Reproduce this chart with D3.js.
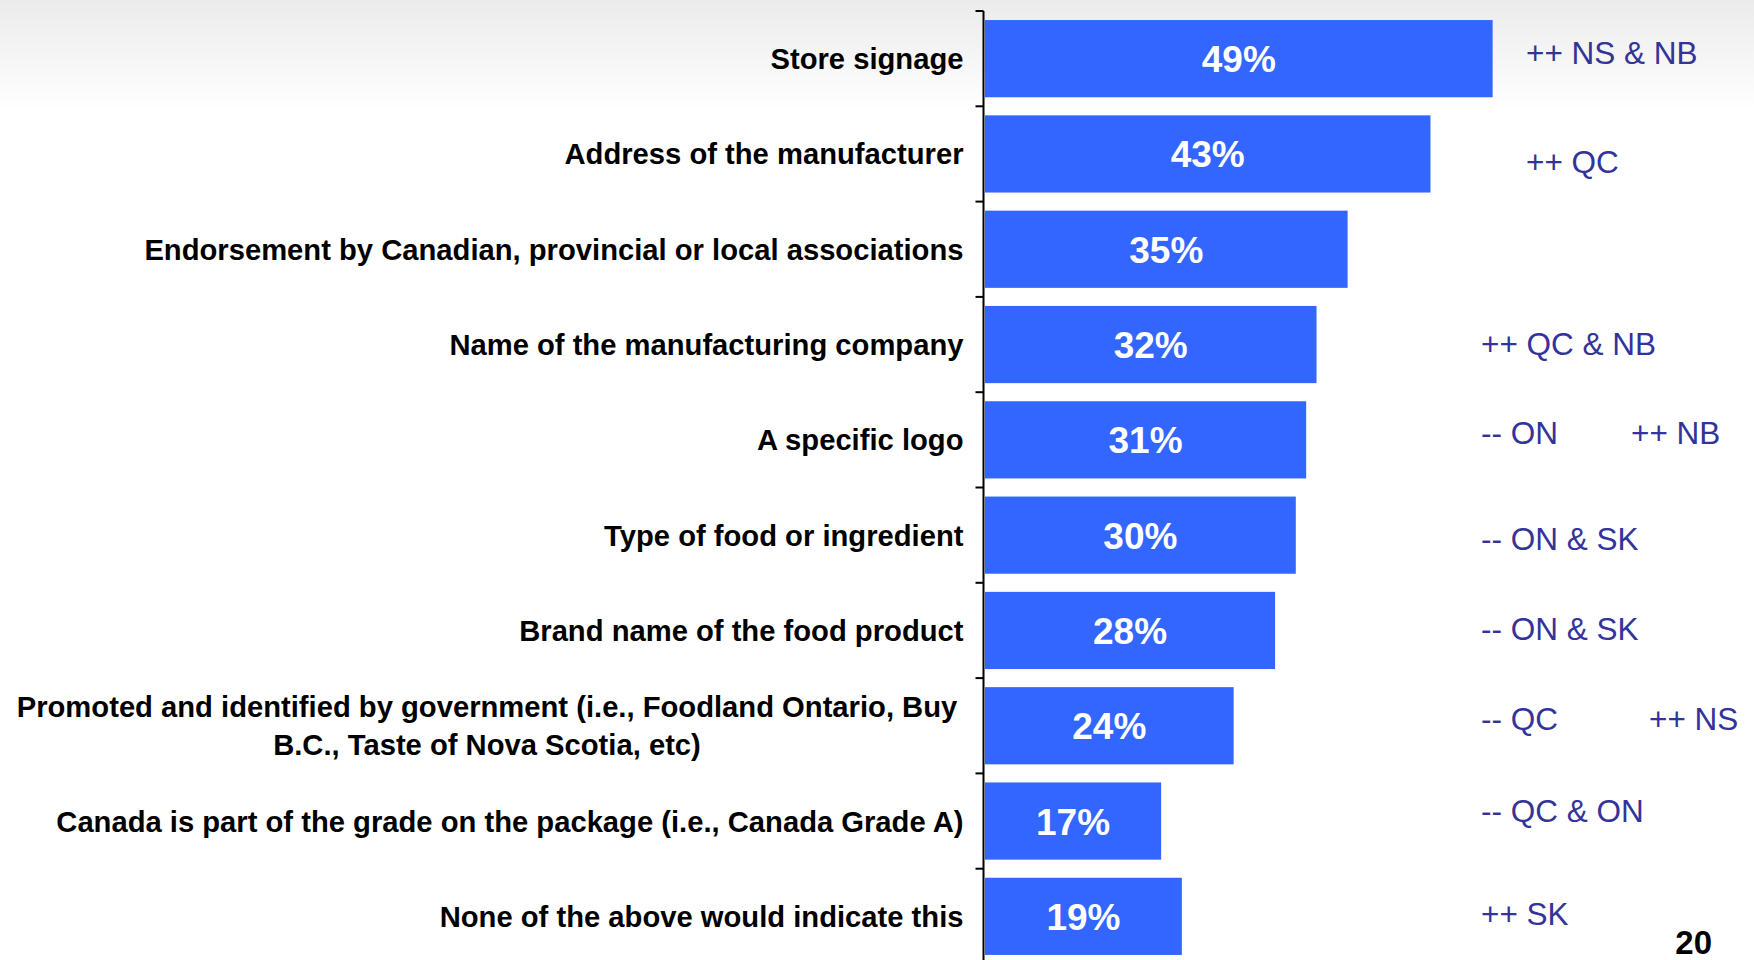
<!DOCTYPE html>
<html>
<head>
<meta charset="utf-8">
<script src="https://cdn.jsdelivr.net/npm/d3@7"></script>
<style>
  html, body { margin: 0; padding: 0; background: #ffffff; }
  svg { display: block; }
  text { font-family: "Liberation Sans", Arial, Helvetica, sans-serif; }
</style>
</head>
<body>
<div id="chart"></div>
<script>
// Sources that would indicate a food product is Canadian (share of respondents)
const categories = [
  "Store signage",
  "Address of the manufacturer",
  "Endorsement by Canadian, provincial or local associations",
  "Name of the manufacturing company",
  "A specific logo",
  "Type of food or ingredient",
  "Brand name of the food product",
  "Promoted and identified by government (i.e., Foodland Ontario, Buy|B.C., Taste of Nova Scotia, etc)",
  "Canada is part of the grade on the package (i.e., Canada Grade A)",
  "None of the above would indicate this"
];
const values = [49, 43, 35, 32, 31, 30, 28, 24, 17, 19];

// Regional differences noted beside each bar (first column, second column)
const regionNotes = [
  ["++ NS & NB", ""],
  ["++ QC", ""],
  ["", ""],
  ["++ QC & NB", ""],
  ["-- ON", "++ NB"],
  ["-- ON & SK", ""],
  ["-- ON & SK", ""],
  ["-- QC", "++ NS"],
  ["-- QC & ON", ""],
  ["++ SK", ""]
];
const pageNumber = "20";

// ---- layout ----
const W = 1754, H = 960;
const barColor = "#3366ff";
const noteColor = "#333399";

// per-row nudges for the note column, relative to the band centre
const noteShift = [
  { dx: 45, dy: 5 }, { dx: 45, dy: 19 }, { dx: 0, dy: 0 }, { dx: 0, dy: 10 },
  { dx: 0, dy: 4 }, { dx: 0, dy: 15 }, { dx: 0, dy: 10 }, { dx: 0, dy: 4 },
  { dx: 0, dy: 1 }, { dx: 0, dy: 9 }
];
const secondColShift = [0, 0, 0, 0, 150, 0, 0, 168, 0, 0];

const svg = d3.select("#chart").append("svg")
  .attr("width", W).attr("height", H);

// soft grey band across the top of the slide
const defs = svg.append("defs");
const grad = defs.append("linearGradient")
  .attr("id", "topFade").attr("x1", 0).attr("y1", 0).attr("x2", 0).attr("y2", 1);
grad.append("stop").attr("offset", "0%").attr("stop-color", "#ebebeb");
grad.append("stop").attr("offset", "45%").attr("stop-color", "#f4f4f4");
grad.append("stop").attr("offset", "100%").attr("stop-color", "#ffffff");
svg.append("rect").attr("x", 0).attr("y", 0).attr("width", W).attr("height", 110)
  .attr("fill", "url(#topFade)");

const axisX = 983.5;
const x = d3.scaleLinear().domain([0, 50]).range([985, 1503]);
const y = d3.scaleBand().domain(categories).range([11, 964])
  .paddingInner(0.19).paddingOuter(0.095);

// bars
svg.append("g").selectAll("rect")
  .data(categories)
  .join("rect")
  .attr("x", x(0))
  .attr("y", d => y(d))
  .attr("width", (d, i) => x(values[i]) - x(0))
  .attr("height", y.bandwidth())
  .attr("fill", barColor);

// value labels inside bars
svg.append("g").selectAll("text")
  .data(categories)
  .join("text")
  .attr("x", (d, i) => (x(0) + x(values[i])) / 2)
  .attr("y", d => y(d) + y.bandwidth() / 2 + 13.5)
  .attr("text-anchor", "middle")
  .attr("fill", "#ffffff")
  .attr("font-weight", "bold")
  .attr("font-size", 37)
  .text((d, i) => values[i] + "%");

// vertical axis with ticks at band boundaries
const axis = svg.append("g");
const step = y.step();
axis.append("line")
  .attr("x1", axisX).attr("x2", axisX)
  .attr("y1", y.range()[0]).attr("y2", y.range()[1])
  .attr("stroke", "#000").attr("stroke-width", 2);
axis.selectAll("line.tick")
  .data(categories)
  .join("line")
  .attr("class", "tick")
  .attr("x1", axisX - 8).attr("x2", axisX)
  .attr("y1", d => y(d) - step * y.paddingOuter())
  .attr("y2", d => y(d) - step * y.paddingOuter())
  .attr("stroke", "#000").attr("stroke-width", 2);

// category labels (right-aligned; long ones wrap onto centred lines)
const labelSize = 29.2;
const labels = svg.append("g");
categories.forEach((c, i) => {
  const lines = c.split("|");
  const cy = y(c) + y.bandwidth() / 2;
  if (lines.length === 1) {
    labels.append("text")
      .attr("x", 963.5).attr("y", cy + 10.5)
      .attr("text-anchor", "end")
      .attr("font-weight", "bold").attr("font-size", labelSize)
      .attr("fill", "#000")
      .text(c);
  } else {
    const lh = 38;
    const t = labels.append("text")
      .attr("text-anchor", "middle")
      .attr("font-weight", "bold").attr("font-size", labelSize)
      .attr("fill", "#000");
    lines.forEach((ln, k) => {
      t.append("tspan")
        .attr("x", 487)
        .attr("y", cy + 10.5 + (k - (lines.length - 1) / 2) * lh)
        .text(ln);
    });
  }
});

// regional notes
const notes = svg.append("g")
  .attr("font-size", 31.5).attr("fill", noteColor);
categories.forEach((c, i) => {
  const cy = y(c) + y.bandwidth() / 2 + noteShift[i].dy;
  const bx = 1481 + noteShift[i].dx;
  const [a, b] = regionNotes[i];
  if (a) notes.append("text").attr("x", bx).attr("y", cy).text(a);
  if (b) notes.append("text").attr("x", bx + secondColShift[i]).attr("y", cy).text(b);
});

// page number
svg.append("text")
  .attr("x", 1712).attr("y", 954)
  .attr("text-anchor", "end")
  .attr("font-weight", "bold").attr("font-size", 33)
  .attr("fill", "#000")
  .text(pageNumber);
</script>
</body>
</html>
